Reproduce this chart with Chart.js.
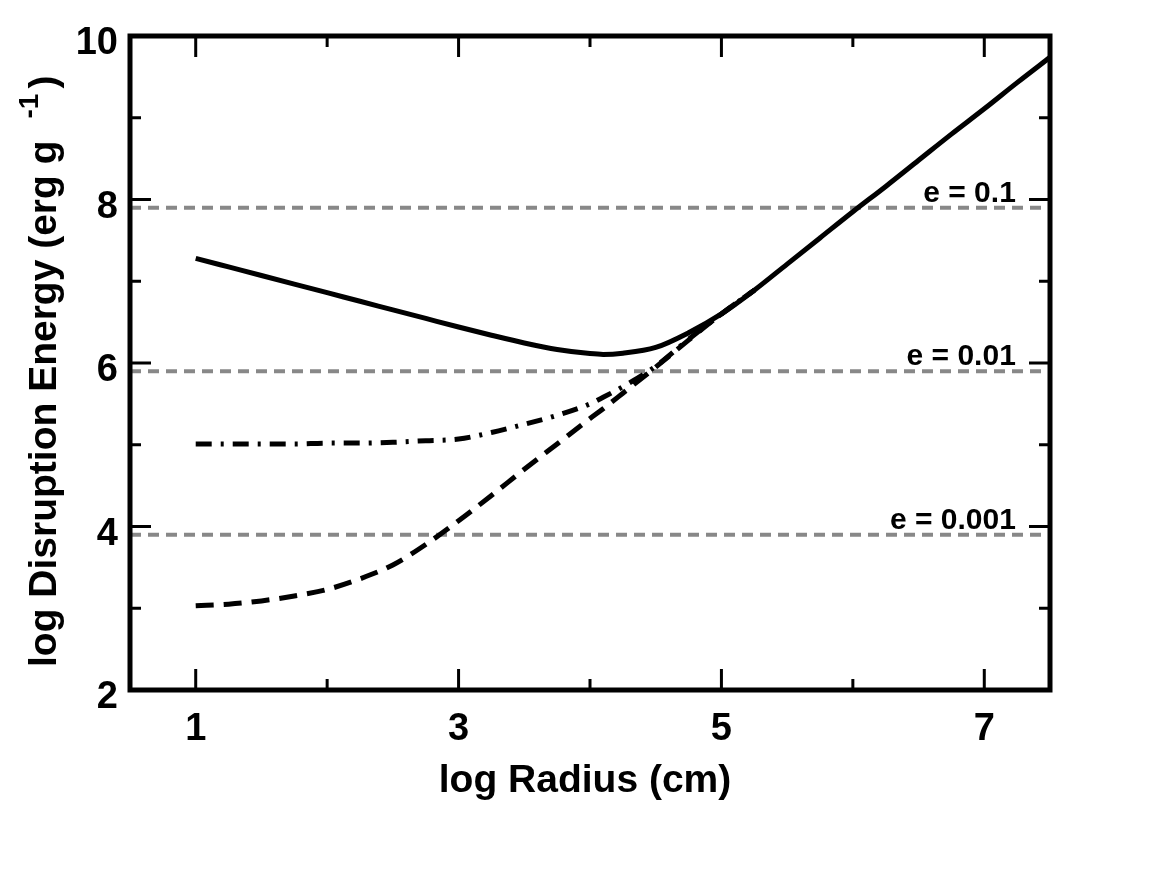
<!DOCTYPE html>
<html>
<head>
<meta charset="utf-8">
<script src="https://cdn.jsdelivr.net/npm/chart.js@4.4.1/dist/chart.umd.min.js"></script>
<style>
  html, body { margin: 0; padding: 0; background: #ffffff; }
  #wrap { width: 1158px; height: 894px; position: relative; }
</style>
</head>
<body>
<div id="wrap"><canvas id="c"></canvas></div>
<script>
// ---- data ----
const logRadius = [1.0, 1.25, 1.5, 1.75, 2.0, 2.25, 2.5, 2.75, 3.0, 3.25, 3.5, 3.75, 4.0, 4.1, 4.25, 4.5, 4.75, 5.0, 5.25, 5.5, 5.75, 6.0, 6.25, 6.5, 6.75, 7.0, 7.25, 7.5];
const solidQ   = [7.28, 7.175, 7.07, 6.965, 6.86, 6.755, 6.65, 6.545, 6.44, 6.34, 6.245, 6.165, 6.115, 6.105, 6.12, 6.19, 6.37, 6.60, 6.89, 7.21, 7.53, 7.85, 8.16, 8.48, 8.80, 9.11, 9.43, 9.74];
const dashDotQ = [5.01, 5.01, 5.01, 5.01, 5.02, 5.02, 5.03, 5.05, 5.07, 5.15, 5.25, 5.36, 5.50, 5.58, 5.71, 5.96, 6.29, 6.60, 6.89, null, null, null, null, null, null, null, null, null];
const dashedQ  = [3.03, 3.05, 3.09, 3.15, 3.23, 3.36, 3.53, 3.78, 4.07, 4.38, 4.70, 5.01, 5.32, 5.44, 5.63, 5.95, 6.28, 6.60, 6.89, null, null, null, null, null, null, null, null, null];
const eLevels  = [7.9, 5.9, 3.9];
const eLabels  = ['e = 0.1', 'e = 0.01', 'e = 0.001'];
const eLabelY  = [7.97, 5.97, 3.97];
const eLabelX  = 7.24;
const xRange   = [0.5, 7.5];
const yRange   = [2, 10];
const xTickLabels = [1, 3, 5, 7];
const xMinorTicks = [2, 4, 6];
const yTickLabels = [2, 4, 6, 8, 10];
const yMinorTicks = [3, 5, 7, 9];
const xTitle = 'log Radius (cm)';
const yTitleMain = 'log Disruption Energy (erg g';
const yTitleSup = '-1';
const yTitleEnd = ')';

const FONT = '"Liberation Sans", Arial, Helvetica, sans-serif';

function pts(xs, ys) {
  const out = [];
  for (let i = 0; i < xs.length; i++) if (ys[i] !== null) out.push({x: xs[i], y: ys[i]});
  return out;
}

const datasets = [
  { data: pts(logRadius, solidQ), borderColor: '#000', borderWidth: 5, pointRadius: 0, cubicInterpolationMode: 'monotone', borderCapStyle: 'butt' },
  { data: pts(logRadius, dashDotQ), borderColor: '#000', borderWidth: 5, pointRadius: 0, cubicInterpolationMode: 'monotone', borderDash: [16, 9, 3, 9], borderCapStyle: 'butt' },
  { data: pts(logRadius, dashedQ), borderColor: '#000', borderWidth: 5, pointRadius: 0, cubicInterpolationMode: 'monotone', borderDash: [18, 10], borderCapStyle: 'butt' }
];
eLevels.forEach(v => {
  datasets.push({ data: [{x: xRange[0], y: v}, {x: xRange[1], y: v}], borderColor: '#888888', borderWidth: 4, pointRadius: 0, borderDash: [11, 7], borderCapStyle: 'butt' });
});

const decor = {
  id: 'decor',
  afterDraw(chart) {
    const {ctx, chartArea: a, scales: {x, y}} = chart;
    ctx.save();
    // frame
    ctx.strokeStyle = '#000';
    ctx.lineWidth = 5;
    ctx.lineJoin = 'miter';
    ctx.strokeRect(a.left, a.top, a.right - a.left, a.bottom - a.top);
    // inward ticks on all four sides
    ctx.lineWidth = 3;
    ctx.beginPath();
    const tick = (vals, len) => {
      vals.forEach(v => {
        const px = x.getPixelForValue(v);
        ctx.moveTo(px, a.bottom); ctx.lineTo(px, a.bottom - len);
        ctx.moveTo(px, a.top); ctx.lineTo(px, a.top + len);
      });
    };
    const ytick = (vals, len) => {
      vals.forEach(v => {
        const py = y.getPixelForValue(v);
        ctx.moveTo(a.left, py); ctx.lineTo(a.left + len, py);
        ctx.moveTo(a.right, py); ctx.lineTo(a.right - len, py);
      });
    };
    tick(xTickLabels, 21); tick(xMinorTicks, 11);
    ytick(yTickLabels, 21); ytick(yMinorTicks, 11);
    ctx.stroke();
    // e labels
    ctx.fillStyle = '#000';
    ctx.font = 'bold 30px ' + FONT;
    ctx.textAlign = 'right';
    ctx.textBaseline = 'alphabetic';
    eLabels.forEach((t, i) => {
      ctx.fillText(t, x.getPixelForValue(eLabelX), y.getPixelForValue(eLabelY[i]));
    });
    // x title
    ctx.font = 'bold 39px ' + FONT;
    ctx.textAlign = 'center';
    ctx.fillText(xTitle, 585, 792);
    // y title (rotated, with superscript)
    ctx.translate(56, 667);
    ctx.rotate(-Math.PI / 2);
    ctx.textAlign = 'left';
    ctx.font = 'bold 39px ' + FONT;
    ctx.fillText(yTitleMain, 0, 0);
    let pos = ctx.measureText(yTitleMain).width + 22;
    ctx.font = 'bold 28px ' + FONT;
    ctx.fillText(yTitleSup, pos, -18);
    pos += ctx.measureText(yTitleSup).width + 5;
    ctx.font = 'bold 39px ' + FONT;
    ctx.fillText(yTitleEnd, pos, 0);
    ctx.restore();
  }
};

new Chart(document.getElementById('c'), {
  type: 'line',
  data: { datasets },
  options: {
    responsive: true,
    maintainAspectRatio: false,
    animation: false,
    layout: { padding: { top: 36, right: 108, left: 0, bottom: 0 } },
    plugins: { legend: { display: false }, tooltip: { enabled: false }, title: { display: false } },
    scales: {
      x: {
        type: 'linear', min: xRange[0], max: xRange[1], position: 'bottom',
        grid: { display: false, drawTicks: false },
        border: { display: false },
        afterBuildTicks: s => { s.ticks = xTickLabels.map(v => ({ value: v })); },
        afterFit: s => { s.height = 204; },
        ticks: { autoSkip: false, maxRotation: 0, padding: 17, color: '#000', font: { family: FONT, size: 38, weight: 'bold' }, callback: v => String(v) }
      },
      y: {
        type: 'linear', min: yRange[0], max: yRange[1], position: 'left',
        grid: { display: false, drawTicks: false },
        border: { display: false },
        afterBuildTicks: s => { s.ticks = yTickLabels.map(v => ({ value: v })); },
        afterFit: s => { s.width = 130; },
        ticks: { autoSkip: false, padding: 12, labelOffset: 8, color: '#000', font: { family: FONT, size: 38, weight: 'bold' }, callback: v => String(v) }
      }
    }
  },
  plugins: [decor]
});
</script>
</body>
</html>
